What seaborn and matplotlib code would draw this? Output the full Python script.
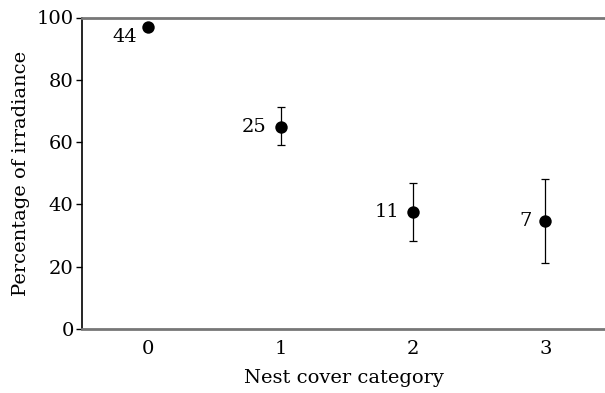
import matplotlib
matplotlib.use("Agg")
import matplotlib.pyplot as plt
import seaborn as sns
import pandas as pd
import numpy as np

categories = [0, 1, 2, 3]
means = [97.0, 65.0, 37.5, 34.7]
err_low = [97.0, 59.0, 28.3, 21.3]
err_high = [97.0, 71.2, 46.8, 48.0]
sample_sizes = ["44", "25", "11", "7"]
y_ticks = [0, 20, 40, 60, 80, 100]

sns.set_theme(style="ticks")
plt.rcParams['font.family'] = ['DejaVu Serif']
plt.rcParams['text.color'] = 'black'
plt.rcParams['axes.labelcolor'] = 'black'

df = pd.DataFrame({"cat": categories, "mean": means})

fig = plt.figure(figsize=(6.05, 3.93), dpi=100)
ax = fig.add_axes([82/605, 1-329/393, 1-82/605, (329-17.5)/393])

yerr = np.array([np.array(means) - np.array(err_low), np.array(err_high) - np.array(means)])
ax.errorbar(categories, means, yerr=yerr, fmt='none', ecolor='black', elinewidth=0.9, capsize=2.7, capthick=0.9, zorder=2)
sns.scatterplot(data=df, x="cat", y="mean", ax=ax, color="black", s=80, edgecolor="black", linewidth=0, zorder=3)

FS = 14
for i, (c, m, n) in enumerate(zip(categories, means, sample_sizes)):
    if i == 0:
        ax.annotate(n, (c, m), xytext=(-8, -7), textcoords="offset points", ha="right", va="center", fontsize=FS, color="black")
    else:
        ax.annotate(n, (c, m), xytext=(-10, 0), textcoords="offset points", ha="right", va="center", fontsize=FS, color="black")

ax.set_xlim(-0.5, 3.45)
ax.set_ylim(0, 100)
ax.set_xticks(categories)
ax.set_xticklabels([str(c) for c in categories])
ax.set_yticks(y_ticks)
ax.tick_params(axis='x', length=0, labelsize=FS, pad=8, colors='black')
ax.tick_params(axis='y', length=4, width=1, labelsize=FS, pad=2, colors='black')
ax.set_xlabel("Nest cover category", fontsize=FS, labelpad=8)
ax.set_ylabel("Percentage of irradiance", fontsize=FS, labelpad=5)

ax.spines['right'].set_visible(False)
ax.spines['left'].set_color('black')
ax.spines['left'].set_linewidth(1.2)
ax.spines['bottom'].set_color('#777777')
ax.spines['bottom'].set_linewidth(2)
ax.spines['top'].set_visible(True)
ax.spines['top'].set_color('#777777')
ax.spines['top'].set_linewidth(2)
ax.grid(False)

fig.savefig("out.png", dpi=100)
